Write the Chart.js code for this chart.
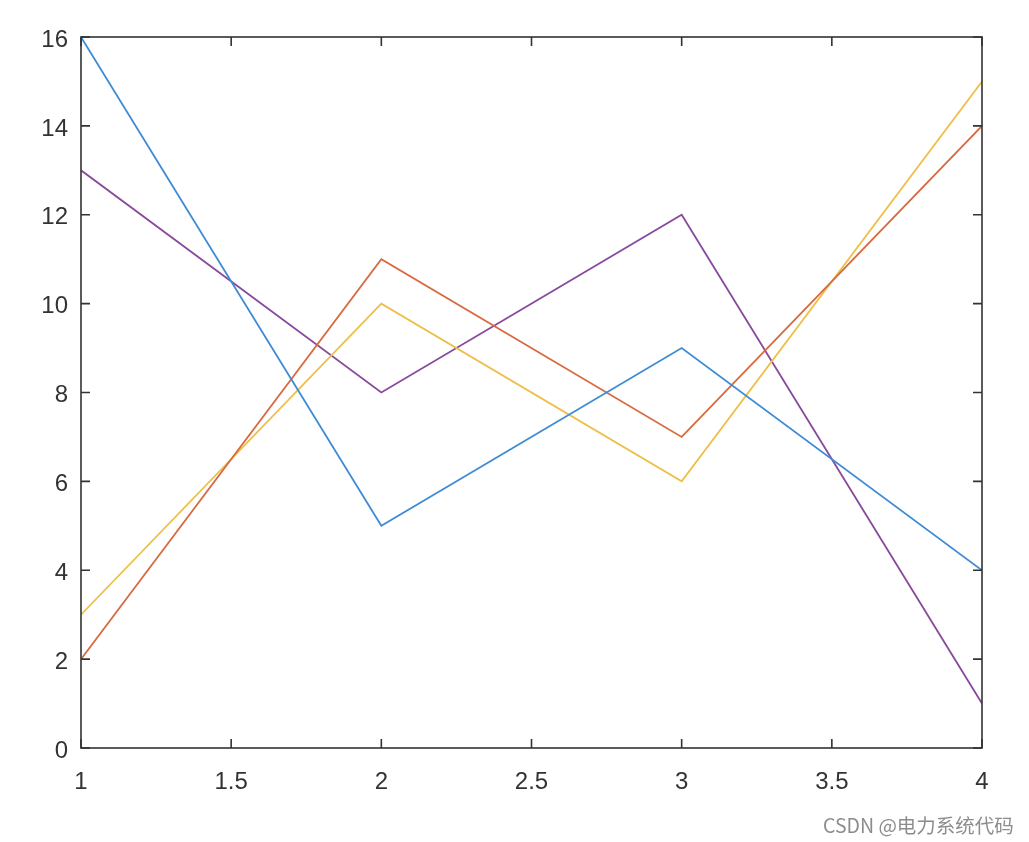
<!DOCTYPE html>
<html>
<head>
<meta charset="utf-8">
<script src="https://cdn.jsdelivr.net/npm/chart.js@4"></script>
<style>
  body { margin: 0; background: #fff; }
  #wrap { position: relative; width: 1029px; height: 842px; }
  #marca {
    position: absolute; left: 823px; top: 810px;
    font-family: "Noto Sans CJK SC", "Liberation Sans", sans-serif;
    font-size: 19.5px; color: #8c8c8c; white-space: nowrap;
  }
</style>
</head>
<body>
<div id="wrap">
  <canvas id="grafico" width="1029" height="842"></canvas>
  <div id="marca">CSDN @电力系统代码</div>
</div>
<script>
// dados (colunas de magic(4))
const xValores = [1, 2, 3, 4];
const serieAzul = [16, 5, 9, 4];
const serieLaranja = [2, 11, 7, 14];
const serieAmarela = [3, 10, 6, 15];
const serieRoxa = [13, 8, 12, 1];
const xTicks = [1, 1.5, 2, 2.5, 3, 3.5, 4];
const yTicks = [0, 2, 4, 6, 8, 10, 12, 14, 16];

const corEixo = "#333333";

function pontos(valores) {
  return valores.map((v, i) => ({ x: xValores[i], y: v }));
}

// caixa e marcas de escala para dentro (estilo MATLAB)
const caixaPlugin = {
  id: "caixa",
  afterDatasetsDraw(chart) {
    const { ctx, chartArea: a, scales } = chart;
    const tam = 9;
    ctx.save();
    ctx.strokeStyle = corEixo;
    ctx.lineWidth = 1.6;
    ctx.beginPath();
    xTicks.forEach(v => {
      const px = scales.x.getPixelForValue(v);
      ctx.moveTo(px, a.bottom); ctx.lineTo(px, a.bottom - tam);
      ctx.moveTo(px, a.top); ctx.lineTo(px, a.top + tam);
    });
    yTicks.forEach(v => {
      const py = scales.y.getPixelForValue(v);
      ctx.moveTo(a.left, py); ctx.lineTo(a.left + tam, py);
      ctx.moveTo(a.right, py); ctx.lineTo(a.right - tam, py);
    });
    ctx.stroke();
    ctx.strokeRect(a.left, a.top, a.right - a.left, a.bottom - a.top);
    ctx.restore();
  }
};

const fonteTicks = { family: "'Liberation Sans', Arial, sans-serif", size: 24 };

new Chart(document.getElementById("grafico").getContext("2d"), {
  type: "line",
  data: {
    datasets: [
      { data: pontos(serieAzul), borderColor: "#3F8CD5" },
      { data: pontos(serieLaranja), borderColor: "#D86A40" },
      { data: pontos(serieAmarela), borderColor: "#EEBF48" },
      { data: pontos(serieRoxa), borderColor: "#8A4A9B" }
    ].map(d => Object.assign(d, { borderWidth: 1.8, pointRadius: 0, tension: 0, fill: false }))
  },
  options: {
    responsive: false,
    animation: false,
    layout: { padding: { top: 37, right: 47, left: 0, bottom: 0 } },
    plugins: { legend: { display: false }, tooltip: { enabled: false } },
    scales: {
      x: {
        type: "linear",
        min: 1, max: 4,
        afterBuildTicks: s => { s.ticks = xTicks.map(v => ({ value: v })); },
        afterFit: s => { s.height = 94; },
        grid: { display: false, drawTicks: false },
        border: { display: false },
        ticks: { color: corEixo, font: fonteTicks, padding: 20, maxRotation: 0,
                 callback: v => String(v) }
      },
      y: {
        min: 0, max: 16,
        afterBuildTicks: s => { s.ticks = yTicks.map(v => ({ value: v })); },
        afterFit: s => { s.width = 81; },
        grid: { display: false, drawTicks: false },
        border: { display: false },
        ticks: { color: corEixo, font: fonteTicks, padding: 13, labelOffset: 3,
                 callback: v => String(v) }
      }
    }
  },
  plugins: [caixaPlugin]
});
</script>
</body>
</html>
